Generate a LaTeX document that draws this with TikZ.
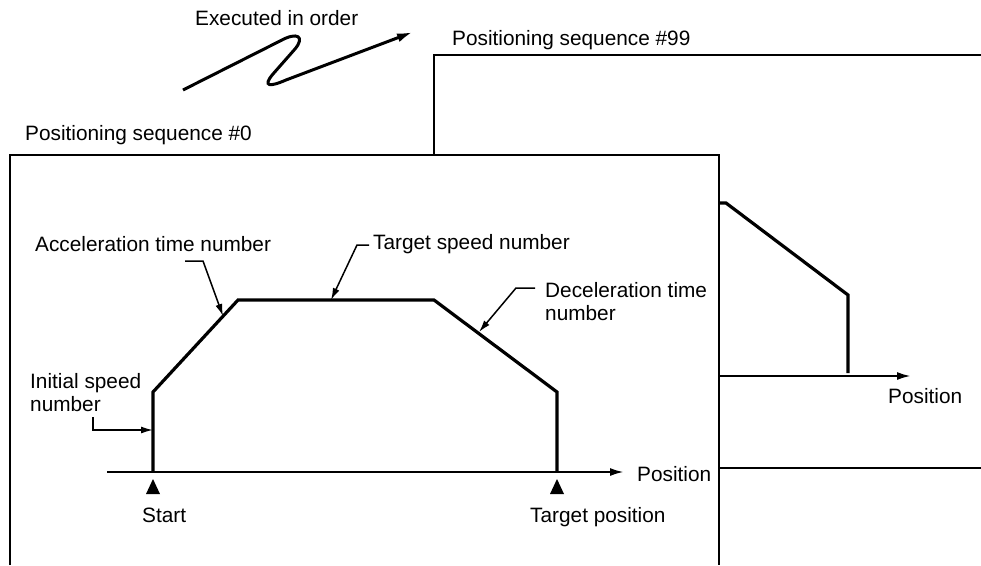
\documentclass[tikz,border=0pt]{standalone}
\usepackage{fontspec}
\setmainfont{Liberation Sans}
\usetikzlibrary{arrows.meta}
\begin{document}
\begin{tikzpicture}[x=1pt,y=-1pt,
  lbl/.style={font=\fontsize{20.8}{23.5}\selectfont, inner sep=0pt, anchor=base west, align=left},
  frame/.style={line width=1.5pt},
  profile/.style={line width=3.2pt},
  axisline/.style={line width=2.2pt, -{Latex[length=14pt,width=8pt]}},
  leader/.style={line width=1.5pt, -{Latex[length=12pt,width=7pt]}},
  squiggle/.style={line width=3pt, -{Latex[length=16pt,width=9pt]}},
  marker/.style={fill=black}]
\useasboundingbox (0,0) rectangle (981,565);

% frames
\draw[frame] (434,155) -- (434,55) -- (981,55);
\draw[frame] (10,565) -- (10,155) -- (719,155) -- (719,565);

% titles
\node[lbl] (exec) at (195,25) {Executed in order};
\node[lbl] (seq99) at (452,45) {Positioning sequence \#99};
\node[lbl] (seq0) at (25,140) {Positioning sequence \#0};

% executed in order arrow
\coordinate (sqa) at (183,90);
\coordinate (sqb) at (413,32);
\draw[squiggle] (sqa) -- (280,41) .. controls (298,31) and (305,37) .. (295,49)
  -- (273,74) .. controls (262,87) and (270,87) .. (286,80) -- (sqb);

% main profile
\coordinate (p0) at (153,472);
\coordinate (p1) at (153,392);
\coordinate (p2) at (238,300);
\coordinate (p3) at (434,300);
\coordinate (p4) at (557,392);
\coordinate (p5) at (557,472);
\draw[profile] (p0) -- (p1) -- (p2) -- (p3) -- (p4) -- (p5);

% main axis
\coordinate (ax0) at (107,472);
\coordinate (ax1) at (624,472);
\draw[axisline] (ax0) -- (ax1);
\node[lbl] (pos0) at (637,481) {Position};

% markers
\fill[marker] (146,494) -- (153,479) -- (160,494) -- cycle;
\fill[marker] (550,494) -- (557,479) -- (564,494) -- cycle;
\node[lbl] (start) at (142,522) {Start};
\node[lbl] (target) at (530,522) {Target position};

% labels
\node[lbl] (acc) at (35,251) {Acceleration time number};
\node[lbl] (tsp) at (373,249) {Target speed number};
\node[lbl] (dec) at (545,320.5) {Deceleration time\\number};
\node[lbl] (ini) at (30,411.5) {Initial speed\\number};

% leaders
\coordinate (acc0) at (185,261);
\coordinate (acc1) at (203,261);
\coordinate (acct) at (223,316);
\draw[leader] (acc0) -- (acc1) -- (acct);

\coordinate (tsp0) at (369,245);
\coordinate (tsp1) at (357,245);
\coordinate (tspt) at (331,300);
\draw[leader] (tsp0) -- (tsp1) -- (tspt);

\coordinate (dec0) at (535,288);
\coordinate (dec1) at (516,288);
\coordinate (dect) at (479,332);
\draw[leader] (dec0) -- (dec1) -- (dect);

\coordinate (ini0) at (93,417);
\coordinate (ini1) at (93,430);
\coordinate (init) at (153,430);
\draw[leader] (ini0) -- (ini1) -- (init);

% right (sequence #99) profile
\coordinate (r0) at (720,203);
\coordinate (r1) at (726,203);
\coordinate (r2) at (848,295);
\coordinate (r3) at (848,373);
\draw[profile] (r0) -- (r1) -- (r2) -- (r3);
\coordinate (rax0) at (720,376);
\coordinate (rax1) at (911,376);
\draw[axisline] (rax0) -- (rax1);
\node[lbl] (pos99) at (888,403) {Position};
\coordinate (rl0) at (720,468);
\coordinate (rl1) at (981,468);
\draw[frame] (rl0) -- (rl1);
\end{tikzpicture}
\end{document}
